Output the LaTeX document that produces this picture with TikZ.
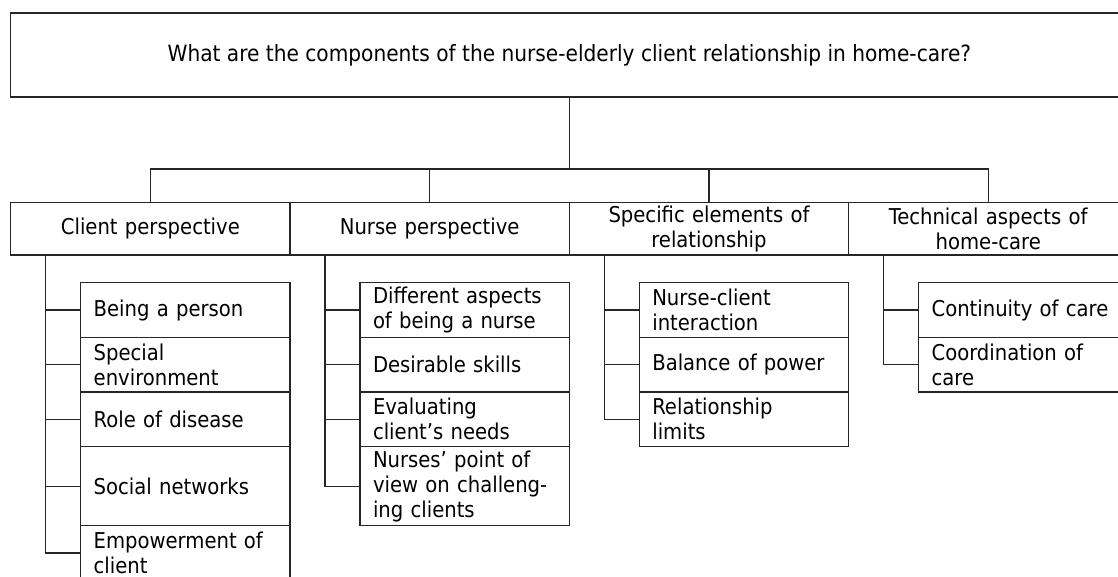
\documentclass[tikz,border=0pt]{standalone}
\usepackage{fontspec}
\setmainfont{DejaVu Sans Condensed}
\usetikzlibrary{positioning}
\definecolor{borde}{gray}{0.15}

\begin{document}
\begin{tikzpicture}[
  x=1pt, y=1pt,
  font=\fontsize{21.8}{25}\selectfont,
  pregunta/.style={draw=borde, line width=1.3pt, minimum width=1117.3pt,
                   minimum height=84pt, inner sep=0pt, outer sep=0pt,
                   font=\fontsize{22.4}{25}\selectfont},
  perspectiva/.style={draw=borde, line width=1.3pt, minimum width=279.3pt,
                      minimum height=52.7pt, text width=270pt, align=center,
                      inner sep=2pt, outer sep=0pt},
  componente/.style={draw=borde, line width=1.3pt, minimum height=54.6pt,
                     text width=183.3pt, align=left, inner xsep=13pt,
                     inner ysep=2pt, outer sep=0pt},
  alto/.style={minimum height=79.3pt},
  rama/.style={draw=borde, line width=1.3pt}
]

\clip (0,0) rectangle (1118,-576);

\node[pregunta] (pregunta) at (569.35,-55) {What are the components of the nurse-elderly client relationship in home-care?};

\node[perspectiva] (cliente) at (150.35,-228.65) {Client perspective};
\node[perspectiva, right=0pt of cliente] (enfermera) {Nurse perspective};
\node[perspectiva, right=0pt of enfermera] (especificos) {Specific elements of\\ relationship};
\node[perspectiva, right=0pt of especificos] (tecnico) {Technical aspects of\\ home-care};

\coordinate (bus) at (0,-169);
\draw[rama] (pregunta.south) -- (pregunta.south |- bus);
\draw[rama] (cliente.north) |- (tecnico.north |- bus) -- (tecnico.north);
\foreach \n in {enfermera, especificos}
  \draw[rama] (\n.north) -- (\n.north |- bus);

% Client perspective
\node[componente, below left=27.7pt and 0pt of cliente.south east] (persona) {Being a person};
\node[componente, below=0pt of persona] (entorno) {Special\\ environment};
\node[componente, below=0pt of entorno] (enfermedad) {Role of disease};
\node[componente, alto, below=0pt of enfermedad] (redes) {Social networks};
\node[componente, below=0pt of redes] (empoderamiento) {Empowerment of\\ client};

% Nurse perspective
\node[componente, below left=27.7pt and 0pt of enfermera.south east] (aspectos) {Different aspects\\ of being a nurse};
\node[componente, below=0pt of aspectos] (habilidades) {Desirable skills};
\node[componente, below=0pt of habilidades] (necesidades) {Evaluating\\ client’s needs};
\node[componente, alto, below=0pt of necesidades] (dificiles) {Nurses’ point of\\ view on challeng-\\ ing clients};

% Specific elements of relationship
\node[componente, below left=27.7pt and 0pt of especificos.south east] (interaccion) {Nurse-client\\ interaction};
\node[componente, below=0pt of interaccion] (poder) {Balance of power};
\node[componente, below=0pt of poder] (limites) {Relationship\\ limits};

% Technical aspects of home-care
\node[componente, below left=27.7pt and 0pt of tecnico.south east] (continuidad) {Continuity of care};
\node[componente, below=0pt of continuidad] (coordinacion) {Coordination of\\ care};

% trunks and stubs
\coordinate (tcliente) at ([xshift=35pt]cliente.south west);
\coordinate (tenfermera) at ([xshift=35pt]enfermera.south west);
\coordinate (tespecificos) at ([xshift=35pt]especificos.south west);
\coordinate (ttecnico) at ([xshift=35pt]tecnico.south west);

\draw[rama] (tcliente) |- (empoderamiento.west);
\foreach \n in {persona, entorno, enfermedad, redes}
  \draw[rama] (\n.west) -- (\n.west -| tcliente);

\draw[rama] (tenfermera) |- (dificiles.west);
\foreach \n in {aspectos, habilidades, necesidades}
  \draw[rama] (\n.west) -- (\n.west -| tenfermera);

\draw[rama] (tespecificos) |- (limites.west);
\foreach \n in {interaccion, poder}
  \draw[rama] (\n.west) -- (\n.west -| tespecificos);

\draw[rama] (ttecnico) |- (coordinacion.west);
\draw[rama] (continuidad.west) -- (continuidad.west -| ttecnico);

\end{tikzpicture}
\end{document}
